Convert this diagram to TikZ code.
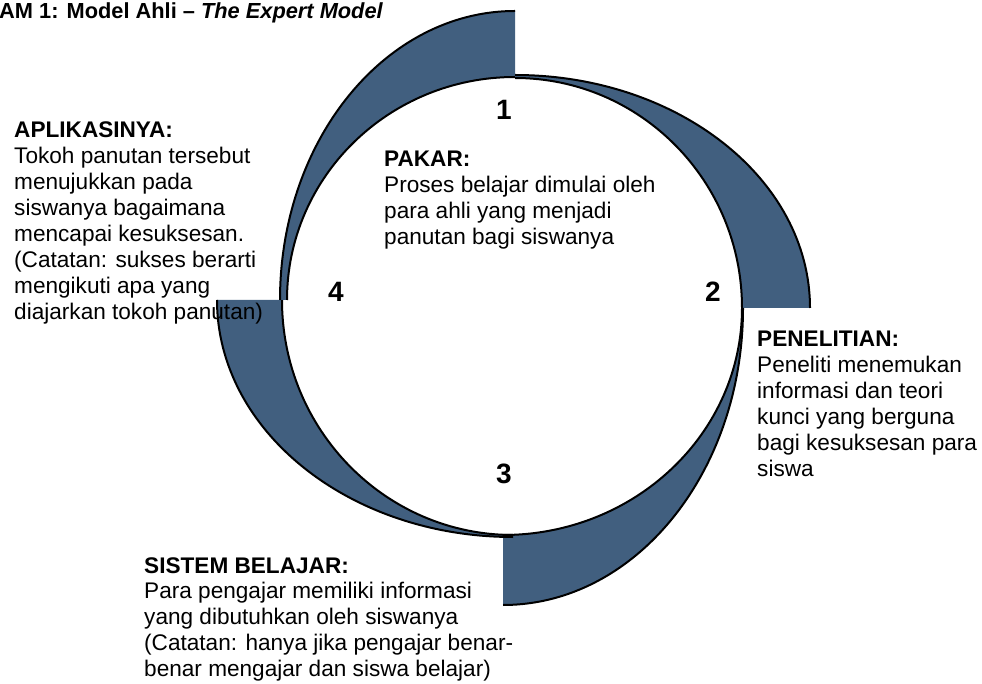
\documentclass[tikz,border=0pt]{standalone}
\usepackage{fontspec}
\setmainfont{Liberation Sans}
\definecolor{biru}{RGB}{65,95,127}
\tikzset{
  blok/.style={fill=biru},
  garis/.style={draw=black, line width=2pt},
  teks/.style={anchor=base west, align=left, inner sep=0pt, font=\fontsize{22.6}{25.9}\selectfont},
  judul/.style={anchor=base west, inner sep=0pt, font=\fontsize{21.8}{24}\selectfont\bfseries},
  nomor/.style={anchor=base, inner sep=0pt, font=\fontsize{28}{30}\selectfont\bfseries}
}

\begin{document}
\begin{tikzpicture}[x=1pt,y=1pt]
    \useasboundingbox (0,0) rectangle (982,683);
    % crescents: centre x/y, start angle, outer radii, inner radii
    \foreach \cx/\cy/\a/\Rx/\Ry/\rx/\ry [evaluate=\a as \b using \a+90] in
        {503/375/270/240/297/239/227, 513/383/180/296/237/231/235,
         515/383/90/235/289/228/223, 515/375/0/295/233/227/230}
    {
        \fill[blok] ({\cx+\Rx*cos(\a)},{\cy+\Ry*sin(\a)})
            arc[start angle=\a, end angle=\b, x radius=\Rx, y radius=\Ry]
            -- ({\cx+\rx*cos(\b)},{\cy+\ry*sin(\b)})
            arc[start angle=\b, end angle=\a, x radius=\rx, y radius=\ry] -- cycle;
        \draw[garis] ({\cx+\Rx*cos(\a)},{\cy+\Ry*sin(\a)})
            arc[start angle=\a, end angle=\b, x radius=\Rx, y radius=\Ry];
        \draw[garis] ({\cx+\rx*cos(\b)},{\cy+\ry*sin(\b)})
            arc[start angle=\b, end angle=\a, x radius=\rx, y radius=\ry];
    }
    \node[judul] (judul) at (-1,664) {AM 1: Model Ahli – \textit{The Expert Model}};
    \node[nomor] (n1) at (504,563) {1};
    \node[nomor] (n2) at (713,381) {2};
    \node[nomor] (n3) at (504,200) {3};
    \node[nomor] (n4) at (336,381) {4};
    % base of a block = base of its last line
    \node[teks] (aplikasi) at (14,363.7) {\textbf{APLIKASINYA:}\\Tokoh panutan tersebut\\menujukkan pada\\siswanya bagaimana\\mencapai kesuksesan.\\(Catatan: sukses berarti\\mengikuti apa yang\\diajarkan tokoh panutan)};
    \node[teks] (pakar) at (384,438.3) {\textbf{PAKAR:}\\Proses belajar dimulai oleh\\para ahli yang menjadi\\panutan bagi siswanya};
    \node[teks] (penelitian) at (757,206.5) {\textbf{PENELITIAN:}\\Peneliti menemukan\\informasi dan teori\\kunci yang berguna\\bagi kesuksesan para\\siswa};
    \node[teks] (sistem) at (144,6.4) {\textbf{SISTEM BELAJAR:}\\Para pengajar memiliki informasi\\yang dibutuhkan oleh siswanya\\(Catatan: hanya jika pengajar benar-\\benar mengajar dan siswa belajar)};
\end{tikzpicture}
\end{document}
